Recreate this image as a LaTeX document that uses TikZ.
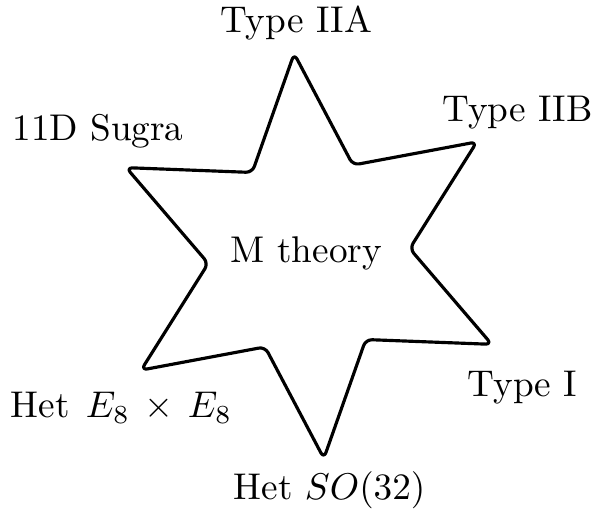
\documentclass[tikz,border=0pt]{standalone}
\usetikzlibrary{calc}
\begin{document}
\begin{tikzpicture}[x=0.2688pt,y=-0.2688pt,
  lbl/.style={anchor=base,inner sep=0pt,outer sep=0pt},
  starline/.style={line width=0.85pt,rounded corners=1.7pt,line join=round}]
\useasboundingbox (0,0) rectangle (600,512);
\coordinate (c) at (309,256);
\foreach \i in {0,...,5}{
  \pgfmathsetmacro{\a}{94.2+60*\i}
  \pgfmathsetmacro{\b}{124.2+60*\i}
  \coordinate (t\i) at ($(c)+({203*cos(\a)},{-203*sin(\a)})$);
  \coordinate (s\i) at ($(c)+({101*cos(\b)},{-101*sin(\b)})$);
}
\draw[starline] (t0) -- (s0) -- (t1) -- (s1) -- (t2) -- (s2) -- (t3) -- (s3) -- (t4) -- (s4) -- (t5) -- (s5) -- cycle;
\node[lbl] (iia) at (296,33) {Type IIA};
\node[lbl] (iib) at (517.5,122) {Type IIB};
\node[lbl] (sugra) at (98,141) {11D Sugra};
\node[lbl] (m) at (306.5,263) {M theory};
\node[lbl] (ti) at (522.5,397) {Type I};
\node[lbl] (e8) at (121.5,418) {Het\hspace{1pt} $E_8\mkern3mu\times\mkern3mu E_8$};
\node[lbl] (so) at (329.5,500) {Het $SO(32)$};
\end{tikzpicture}
\end{document}
